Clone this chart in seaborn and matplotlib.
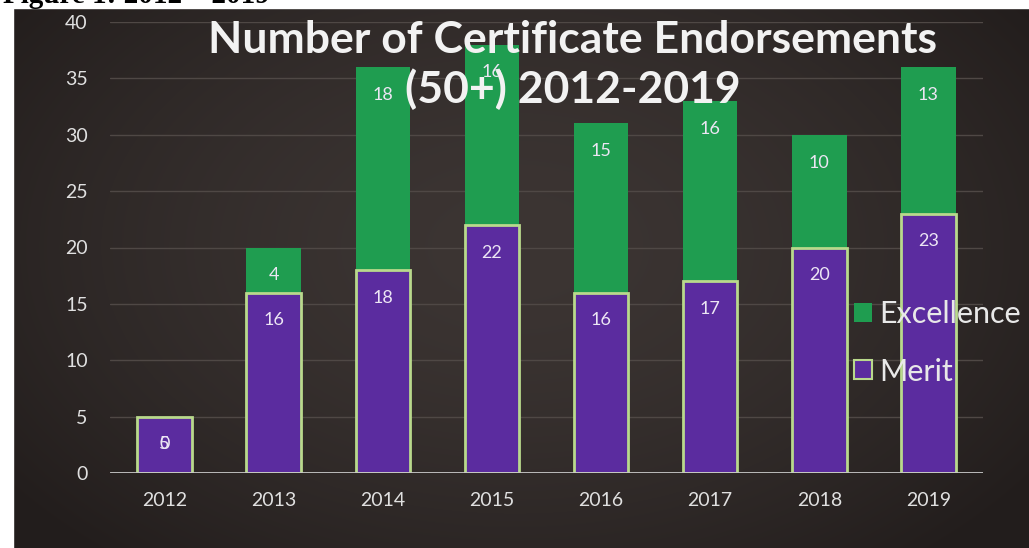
import numpy as np
import pandas as pd
import matplotlib
matplotlib.use("Agg")
import matplotlib.pyplot as plt
import seaborn as sns
from matplotlib.patches import Rectangle, Patch

# Endorsement counts per year
years = ["2012", "2013", "2014", "2015", "2016", "2017", "2018", "2019"]
merit = [5, 16, 18, 22, 16, 17, 20, 23]
excellence = [0, 4, 18, 16, 15, 16, 10, 13]
y_ticks = [0, 5, 10, 15, 20, 25, 30, 35, 40]

sns.set_theme(style="dark")
plt.rcParams["font.family"] = ["Lato", "DejaVu Sans"]

df = pd.DataFrame({"Year": years, "Merit": merit, "Excellence": excellence})
df["Total"] = df["Merit"] + df["Excellence"]

GREEN = "#1f9d50"
PURPLE = "#5b2c9f"
EDGE = "#b9d98c"
LABEL = "#ece6f4"
TICK = "#e0e0e0"

W, H = 1029, 548
fig = plt.figure(figsize=(W / 100, H / 100), dpi=100)

# dark vignette background
bg = fig.add_axes([0, 0, 1, 1], zorder=-10)
yy, xx = np.mgrid[0:H, 0:W]
r = np.sqrt(((xx - W * 0.5) / (W * 0.62)) ** 2 + ((yy - H * 0.45) / (H * 0.75)) ** 2)
t = np.clip(r, 0, 1) ** 1.6
center = np.array([0x3c, 0x35, 0x33]) / 255
edge = np.array([0x22, 0x1d, 0x1c]) / 255
img = center[None, None, :] * (1 - t[..., None]) + edge[None, None, :] * t[..., None]
bg.imshow(img, extent=[0, 1, 0, 1], aspect="auto", origin="upper")
bg.add_patch(Rectangle((0, 0), 13 / W, 1, transform=bg.transAxes, color="white"))
bg.add_patch(Rectangle((0, 1 - 8 / H), 1, 8 / H, transform=bg.transAxes, color="white"))
bg.set_xlim(0, 1)
bg.set_ylim(0, 1)
bg.axis("off")

# caption line above the chart panel (runs past the top edge)
fig.text(0.003, 1 - 3 / H, "Figure 1: 2012 \u2013 2019", family="Liberation Serif",
         fontweight="bold", fontsize=21, color="black", va="baseline", ha="left")

ax = fig.add_axes([110 / W, 1 - 473 / H, 873 / W, 451 / H])
ax.set_facecolor("none")

# stacked bars: totals in green, merit drawn over them in purple
sns.barplot(data=df, x="Year", y="Total", color=GREEN, width=0.5, saturation=1,
            linewidth=0, ax=ax, zorder=2)
sns.barplot(data=df, x="Year", y="Merit", color=PURPLE, width=0.5, saturation=1,
            edgecolor=EDGE, linewidth=2, ax=ax, zorder=3)

for i, (m, e, tot) in enumerate(zip(df["Merit"], df["Excellence"], df["Total"])):
    ax.annotate(str(m), (i, m), xytext=(0, -20), textcoords="offset points",
                ha="center", va="center", color=LABEL, fontsize=13, zorder=5)
    ax.annotate(str(e), (i, tot), xytext=(0, -20), textcoords="offset points",
                ha="center", va="center", color=LABEL, fontsize=13, zorder=5)

ax.set_ylim(0, 40)
ax.set_xlim(-0.5, len(years) - 0.5)
ax.set_yticks(y_ticks)
ax.set_xlabel("")
ax.set_ylabel("")
ax.yaxis.grid(True, color="#4f4845", linewidth=1)
ax.set_axisbelow(True)
for s in ax.spines.values():
    s.set_visible(False)
ax.axhline(0, color="#c8c8c8", linewidth=2, zorder=4)
ax.tick_params(axis="y", colors=TICK, labelsize=14, length=0, pad=16)
ax.tick_params(axis="x", colors=TICK, labelsize=14, length=0, pad=14)

fig.text(573 / W, 1 - 40 / H, "Number of Certificate Endorsements", ha="center",
         va="center", fontsize=32, fontweight="bold", color="#f2f2f2")
fig.text(573 / W, 1 - 89 / H, "(50+) 2012-2019", ha="center", va="center",
         fontsize=32, fontweight="bold", color="#f2f2f2")

handles = [Patch(facecolor=GREEN, edgecolor="none", label="Excellence"),
           Patch(facecolor=PURPLE, edgecolor=EDGE, linewidth=1.5, label="Merit")]
fig.legend(handles=handles, loc="center left", bbox_to_anchor=(826 / W, 1 - 343 / H),
           frameon=False, fontsize=22, handlelength=0.6, handleheight=0.6,
           handletextpad=0.25, labelspacing=0.95, labelcolor="#e8e8e8")

fig.savefig("out.png", dpi=100)
